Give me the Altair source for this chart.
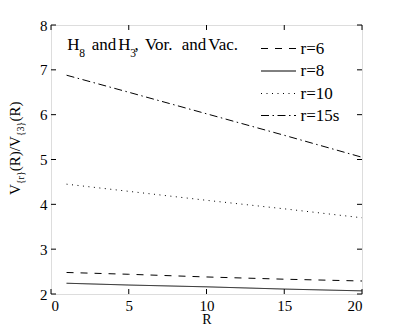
import altair as alt
import pandas as pd

# ---- data ----
R_values = [1, 5, 10, 15, 20]
series_names = ["r=6", "r=8", "r=10", "r=15s"]
v_r6 = [2.48, 2.44, 2.38, 2.33, 2.29]
v_r8 = [2.24, 2.20, 2.16, 2.11, 2.07]
v_r10 = [4.45, 4.29, 4.09, 3.90, 3.70]
v_r15s = [6.88, 6.50, 6.02, 5.54, 5.05]
x_ticks = [0, 5, 10, 15, 20]
y_ticks = [2, 3, 4, 5, 6, 7, 8]

dash_patterns = [[7, 7], [1, 0], [1, 4.5], [8, 3.5, 1.5, 3.5]]

W, H = 311, 269
FONT = "Liberation Serif"

rows = []
for name, vals in zip(series_names, [v_r6, v_r8, v_r10, v_r15s]):
    for r, v in zip(R_values, vals):
        rows.append({"R": r, "V": v, "series": name})
df = pd.DataFrame(rows)

x_scale = alt.Scale(domain=[0, 20], nice=False, zero=False)
y_scale = alt.Scale(domain=[2, 8], nice=False, zero=False)
x_axis = alt.Axis(values=x_ticks, title="R", grid=False, domain=False, ticks=False,
                  tickSize=0, labelPadding=4, labelFont=FONT, labelFontSize=15,
                  labelColor="black", titleFont=FONT, titleFontSize=14,
                  titleFontWeight="normal", titleColor="black",
                  titleBaseline="alphabetic", titleY=29)
y_axis = alt.Axis(values=y_ticks, title=None, grid=False, domain=False, ticks=False,
                  tickSize=0, labelPadding=4, labelFont=FONT, labelFontSize=15,
                  labelColor="black")


def X(field):
    return alt.X(field, type="quantitative", scale=x_scale, axis=x_axis)


def Y(field):
    return alt.Y(field, type="quantitative", scale=y_scale, axis=y_axis)


lines = alt.Chart(df).mark_line(color="black", strokeWidth=1).encode(
    x=X("R"), y=Y("V"),
    strokeDash=alt.StrokeDash("series:N",
                              scale=alt.Scale(domain=series_names, range=dash_patterns),
                              legend=None),
    detail="series:N",
)

dfx = pd.DataFrame({"v": x_ticks})
dfy = pd.DataFrame({"v": y_ticks})
TL = 5
tick_layers = [
    alt.Chart(dfx).mark_rule(color="black", strokeWidth=1).encode(
        x=X("v"), y=alt.value(H), y2=alt.value(H - TL)),
    alt.Chart(dfx).mark_rule(color="black", strokeWidth=1).encode(
        x=X("v"), y=alt.value(0), y2=alt.value(TL)),
    alt.Chart(dfy).mark_rule(color="black", strokeWidth=1).encode(
        y=Y("v"), x=alt.value(0), x2=alt.value(TL)),
    alt.Chart(dfy).mark_rule(color="black", strokeWidth=1).encode(
        y=Y("v"), x=alt.value(W), x2=alt.value(W - TL)),
]


def txt(s, x, y, size, angle=0, baseline="alphabetic"):
    kw = dict(align="left", baseline=baseline, font=FONT, fontSize=size, color="black")
    if angle:
        kw["angle"] = angle
    return alt.Chart(pd.DataFrame({"t": [s]})).mark_text(**kw).encode(
        text="t:N", x=alt.value(x), y=alt.value(y))


# in-plot title: H_8 and H_3, Vor. and Vac.
title_layers = [
    txt("H", 16.3, 24.5, 17),
    txt("8", 28.3, 31.5, 11.5),
    txt("and", 40.7, 24.5, 17),
    txt("H", 67.3, 24.5, 17),
    txt("3", 79.2, 31.5, 11.5),
    txt(",", 83.5, 24.5, 17),
    txt("Vor.", 94, 24.5, 17),
    txt("and", 130.7, 24.5, 17),
    txt("Vac.", 157.3, 24.5, 17),
]

# y axis title: V_{r}(R)/V_{3}(R), rotated
ytitle_layers = [
    txt("V", -31, 170, 15, angle=270),
    txt("{r}", -27, 159.2, 10, angle=270),
    txt("(R)/V", -31, 146.2, 15, angle=270),
    txt("{3}", -27, 111.2, 10, angle=270),
    txt("(R)", -31, 96.6, 15, angle=270),
]

# manual legend
legend_layers = []
row_y = [23.5, 46, 68.5, 90.5]
for name, dash, yy in zip(series_names, dash_patterns, row_y):
    legend_layers.append(
        alt.Chart(pd.DataFrame({"s": [name]})).mark_rule(
            color="black", strokeWidth=1, strokeDash=dash).encode(
            x=alt.value(210), x2=alt.value(245), y=alt.value(yy)))
    legend_layers.append(txt(name, 249.5, yy, 17, baseline="middle"))

chart = alt.layer(lines, *tick_layers, *title_layers, *ytitle_layers, *legend_layers).properties(
    width=W, height=H,
    autosize=alt.AutoSizeParams(type="none"),
    padding={"left": 43, "top": 17, "right": 29, "bottom": 31},
).configure_view(stroke="black", strokeWidth=1).configure(background="white")

chart.save("out.html", embed_options={"renderer": "svg", "actions": False})
